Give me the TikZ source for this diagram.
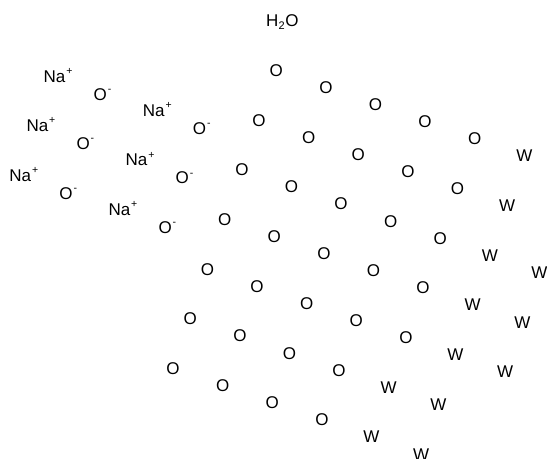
\documentclass[tikz,border=0pt]{standalone}
\usepackage{fontspec}
\setmainfont{Liberation Sans}
\newcommand\lbf{\fontsize{17bp}{20bp}\selectfont}
\newcommand\upr[1]{\kern1bp\raisebox{7.8bp}{\fontsize{10.5bp}{12bp}\selectfont #1}}
\newcommand\dnr[1]{\kern0.3bp\raisebox{-2.5bp}{\fontsize{11bp}{12bp}\selectfont #1}\kern0.6bp}
\tikzset{
  lbl/.style={inner sep=0pt, outer sep=0pt, font=\lbf, text=black},
  ctr/.style={lbl, anchor=center},
  bw/.style={lbl, anchor=base west}
}
\begin{document}
\begin{tikzpicture}[x=1bp,y=-1bp]
\useasboundingbox (0,0) rectangle (547,459);
% water label
\node[bw] (h2o) at (266,26.7) {H\dnr{2}O};
% lattice of O and W
\foreach \r/\no/\nw in {0/4/5, 1/4/5, 2/4/6, 3/4/6, 4/4/6, 5/3/5, 6/3/5} {
  \foreach \c in {0,...,\no} {
    \pgfmathsetmacro\px{276.3+49.6*\c-17.2*\r}
    \pgfmathsetmacro\py{70.5+17.1*\c+49.7*\r}
    \node[ctr] (o-\r-\c) at (\px,\py) {O};
  }
  \pgfmathtruncatemacro\ws{\no+1}
  \foreach \c in {\ws,...,\nw} {
    \pgfmathsetmacro\px{276.3+49.6*\c-17.2*\r}
    \pgfmathsetmacro\py{70.5+17.1*\c+49.7*\r}
    \node[ctr] (w-\r-\c) at (\px,\py) {W};
  }
}
% sodium oxide ions
\foreach \i in {0,1} {
  \foreach \j in {0,1,2} {
    \pgfmathsetmacro\ox{100.3+99.2*\i-17.2*\j}
    \pgfmathsetmacro\oy{94+34.2*\i+49.7*\j}
    \node[bw] (om-\i-\j) at (\ox-6.6,\oy+6.1) {O\upr{-}};
    \node[bw] (na-\i-\j) at (\ox-56.6,\oy+6.1-18) {Na\upr{+}};
  }
}
\end{tikzpicture}
\end{document}
